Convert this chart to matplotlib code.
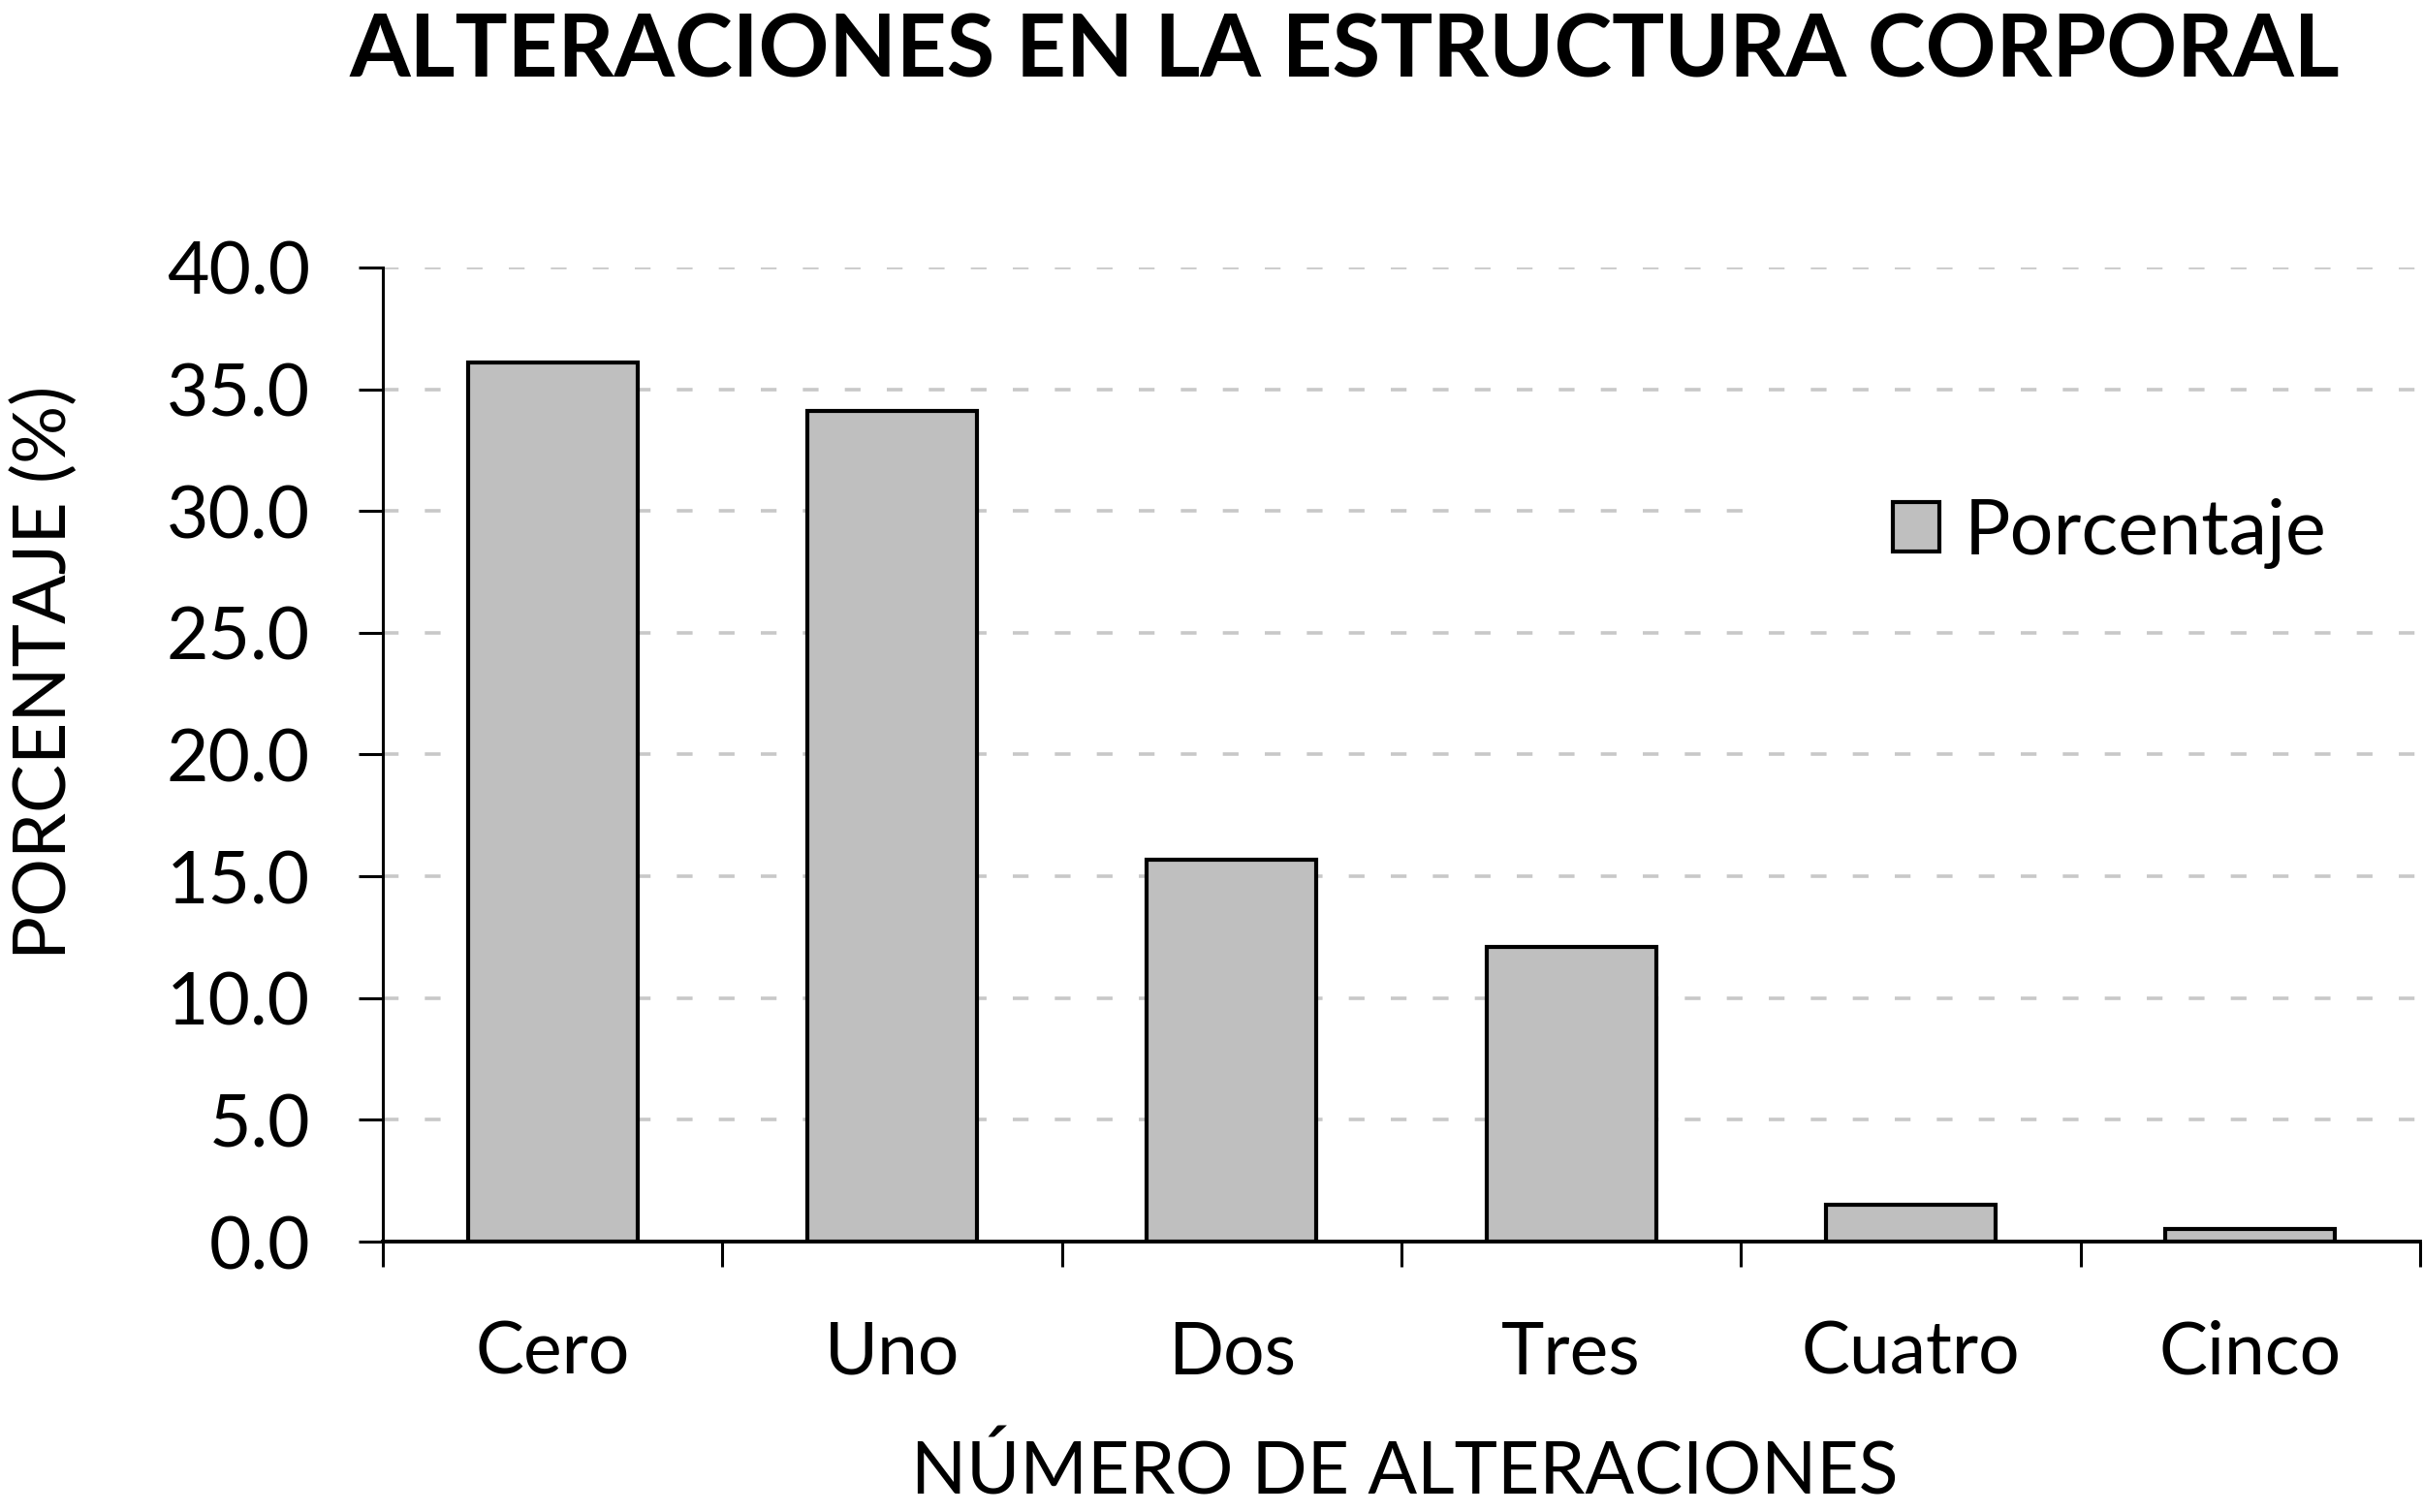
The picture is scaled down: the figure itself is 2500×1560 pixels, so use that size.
import matplotlib
matplotlib.use("Agg")
import matplotlib.pyplot as plt
from matplotlib.patches import Rectangle

categorias = ["Cero", "Uno", "Dos", "Tres", "Cuatro", "Cinco"]
porcentaje = [36.1, 34.1, 15.7, 12.1, 1.5, 0.5]
y_ticks = [0, 5, 10, 15, 20, 25, 30, 35, 40]

W, H = 2500, 1560
plt.rcParams["font.family"] = ["Lato", "DejaVu Sans"]


def fx(px):
    return px / W


def fy(py):
    return 1 - py / H


fig = plt.figure(figsize=(W / 100, H / 100), dpi=100)
ax = fig.add_axes([fx(395), fy(1281), fx(2497 - 395), (1281 - 276) / H])

x = list(range(len(categorias)))
ax.bar(x, porcentaje, width=0.5, color="#bfbfbf", edgecolor="black",
       linewidth=3.0, label="Porcentaje", zorder=2)

ax.set_xlim(-0.5, len(categorias) - 0.5)
ax.set_ylim(0, 40)
ax.set_yticks(y_ticks)
ax.set_yticklabels([f"{v:.1f}" for v in y_ticks])
ax.set_xticks(x)
ax.set_xticklabels(categorias)
ax.set_xticks([i - 0.5 for i in range(len(categorias) + 1)], minor=True)

ax.tick_params(axis="y", length=18, width=2.2, labelsize=54, pad=36)
ax.tick_params(axis="x", which="major", length=0, labelsize=54, pad=58)
ax.tick_params(axis="x", which="minor", length=19, width=2.2)

for s in ("top", "right"):
    ax.spines[s].set_visible(False)
ax.spines["left"].set_linewidth(2.2)
ax.spines["bottom"].set_linewidth(2.8)
ax.spines["bottom"].set_zorder(3)

ax.set_axisbelow(True)
ax.yaxis.grid(True, color="#c8c8c8", linewidth=2.6, linestyle=(0, (4.5, 7.5)))

# white legend background hides the 30 gridline on the right
ax.add_patch(Rectangle((fx(1817), fy(625)), 1, (625 - 470) / H,
                       transform=fig.transFigure, facecolor="white",
                       edgecolor="none", zorder=1))

leg = ax.legend(loc="center left", bbox_to_anchor=(fx(1953), fy(550)),
                bbox_transform=fig.transFigure, frameon=False, fontsize=57,
                handlelength=0.6, handleheight=0.6, handletextpad=0.33,
                borderpad=0, borderaxespad=0)

fig.text(fx(1387), fy(12), "ALTERACIONES EN LA ESTRUCTURA CORPORAL",
         ha="center", va="top", fontsize=65, fontweight="bold")
fig.text(fx(46), fy(694), "PORCENTAJE (%)", rotation=90,
         ha="center", va="center", fontsize=54)
fig.text(fx(1449), fy(1555), "NÚMERO DE ALTERACIONES",
         ha="center", va="bottom", fontsize=54)

fig.savefig("out.png", dpi=100)
